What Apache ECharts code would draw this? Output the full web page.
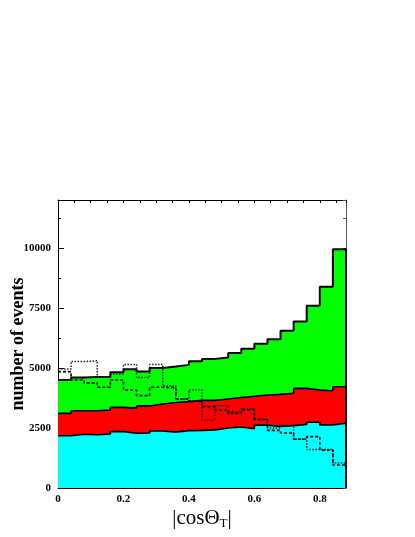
<!DOCTYPE html>
<html>
<head>
<meta charset="utf-8">
<script src="https://cdn.jsdelivr.net/npm/echarts@6/dist/echarts.min.js"></script>
<style>
html, body { margin: 0; padding: 0; background: #fff; }
#chart { width: 415px; height: 537px; }
</style>
</head>
<body>
<div id="chart"></div>
<script>
// 22 bins of |cos theta_T|, width 0.04
const binEdges = [0, 0.04, 0.08, 0.12, 0.16, 0.20, 0.24, 0.28, 0.32, 0.36, 0.40,
	0.44, 0.48, 0.52, 0.56, 0.60, 0.64, 0.68, 0.72, 0.76, 0.80, 0.84, 0.88];

// stacked contributions per bin
const cyanCounts = [2180, 2240, 2220, 2250, 2350, 2280, 2290, 2375, 2330, 2390, 2400,
	2420, 2500, 2540, 2470, 2620, 2560, 2600, 2650, 2740, 2630, 2700];
const redCounts = [930, 980, 1000, 1000, 1010, 1050, 1130, 1125, 1230, 1210, 1250,
	1230, 1210, 1230, 1350, 1255, 1340, 1350, 1500, 1340, 1420, 1520];
const greenCounts = [1390, 1380, 1400, 1390, 1460, 1620, 1430, 1500, 1500, 1530, 1630,
	1730, 1730, 1850, 1980, 2135, 2300, 2600, 2790, 3510, 4340, 5730];

// overlaid histograms
const dottedCounts = [4960, 5270, 5300, 4640, 4750, 5150, 4600, 5150, 4250, 3700, 4080,
	2830, 3430, 3180, 3300, 2850, 2500, 2600, 2030, 1600, 1600, 1040];
const dashedCounts = [4850, 4500, 4380, 4200, 4500, 4080, 3850, 4200, 4180, 3720, 3620,
	3390, 3250, 3110, 3250, 2850, 2400, 2290, 2030, 2140, 1580, 960];

const serif = 'Liberation Serif';
const plotRect = { left: 58, right: 69, top: 200, bottom: 49, outerBoundsMode: 'none' };

function stepData(vals, close) {
	let d = [];
	for (let i = 0; i < vals.length; i++) {
		d.push([binEdges[i], vals[i]]);
	}
	d.push([binEdges[vals.length], vals[vals.length - 1]]);
	if (close) d.push([binEdges[vals.length], 0]);
	return d;
}

let redTop = [], total = [];
for (let i = 0; i < cyanCounts.length; i++) {
	redTop.push(cyanCounts[i] + redCounts[i]);
	total.push(cyanCounts[i] + redCounts[i] + greenCounts[i]);
}

function areaSeries(vals, fill, width, close) {
	return {
		type: 'line',
		step: 'end',
		symbol: 'none',
		silent: true,
		data: stepData(vals, close),
		lineStyle: { color: '#000', width: width },
		areaStyle: { color: fill, opacity: 1 }
	};
}

// plain tick-only axis (no labels)
function tickAxis(gridIndex, position, max, interval, len, showLine, color) {
	return {
		type: 'value',
		gridIndex: gridIndex,
		position: position,
		min: 0,
		max: max,
		interval: interval,
		axisLine: { show: showLine, onZero: false, lineStyle: { color: color, width: 1 } },
		axisTick: { show: true, inside: true, length: len, lineStyle: { color: color } },
		axisLabel: { show: false },
		splitLine: { show: false }
	};
}

let chart = echarts.init(document.getElementById('chart'));
let option = {
	backgroundColor: '#fff',
	animation: false,
	grid: [Object.assign({}, plotRect), Object.assign({}, plotRect)],
	xAxis: [{
		type: 'value',
		gridIndex: 0,
		position: 'bottom',
		min: 0,
		max: 0.88,
		interval: 0.2,
		axisLine: { onZero: false, lineStyle: { color: '#000', width: 1 } },
		axisTick: { inside: true, length: 6, lineStyle: { color: '#000' } },
		axisLabel: {
			showMaxLabel: false,
			margin: 6,
			color: '#000',
			fontFamily: serif,
			fontWeight: 'bold',
			fontSize: 11,
			formatter: function (v) { return v === 0 ? '0' : v.toFixed(1); }
		},
		splitLine: { show: false },
		name: '{a||cosΘ}{s|T}{a||}',
		nameLocation: 'middle',
		nameGap: 18,
		nameMoveOverlap: false,
		nameTextStyle: {
			rich: {
				a: { fontFamily: serif, fontSize: 21, color: '#000', lineHeight: 24 },
				s: { fontFamily: serif, fontSize: 13, color: '#000', lineHeight: 12, verticalAlign: 'bottom' }
			}
		}
	},
		tickAxis(0, 'top', 0.88, 0.05, 3, true, '#000'),
		tickAxis(1, 'bottom', 0.88, 0.05, 3, false, '#000')
	],
	yAxis: [{
		type: 'value',
		gridIndex: 0,
		position: 'left',
		min: 0,
		max: 12000,
		interval: 2500,
		axisLine: { show: true, onZero: false, lineStyle: { color: '#000', width: 1 } },
		axisTick: { show: true, inside: true, length: 6, lineStyle: { color: '#000' } },
		axisLabel: {
			showMaxLabel: false,
			margin: 7,
			color: '#000',
			fontFamily: serif,
			fontWeight: 'bold',
			fontSize: 11,
			formatter: function (v) { return String(v); }
		},
		splitLine: { show: false },
		name: 'number of events',
		nameLocation: 'middle',
		nameGap: 31,
		nameMoveOverlap: false,
		nameTextStyle: {
			fontFamily: serif,
			fontWeight: 'bold',
			fontSize: 18,
			color: '#000'
		}
	},
		tickAxis(0, 'right', 12000, 1250, 3, true, '#555'),
		tickAxis(1, 'left', 12000, 1250, 3, false, '#000')
	],
	series: [
		areaSeries(total, '#00ff00', 2, true),
		areaSeries(redTop, '#ff0000', 1.6, false),
		areaSeries(cyanCounts, '#00ffff', 1.6, false),
		{
			type: 'line',
			step: 'end',
			symbol: 'none',
			silent: true,
			data: stepData(dottedCounts, true),
			lineStyle: { color: '#222', width: 1.5, type: [1.5, 1.5] }
		},
		{
			type: 'line',
			step: 'end',
			symbol: 'none',
			silent: true,
			data: stepData(dashedCounts, true),
			lineStyle: { color: '#000', width: 1.6, type: [3, 2] }
		}
	]
};
chart.setOption(option);
</script>
</body>
</html>
